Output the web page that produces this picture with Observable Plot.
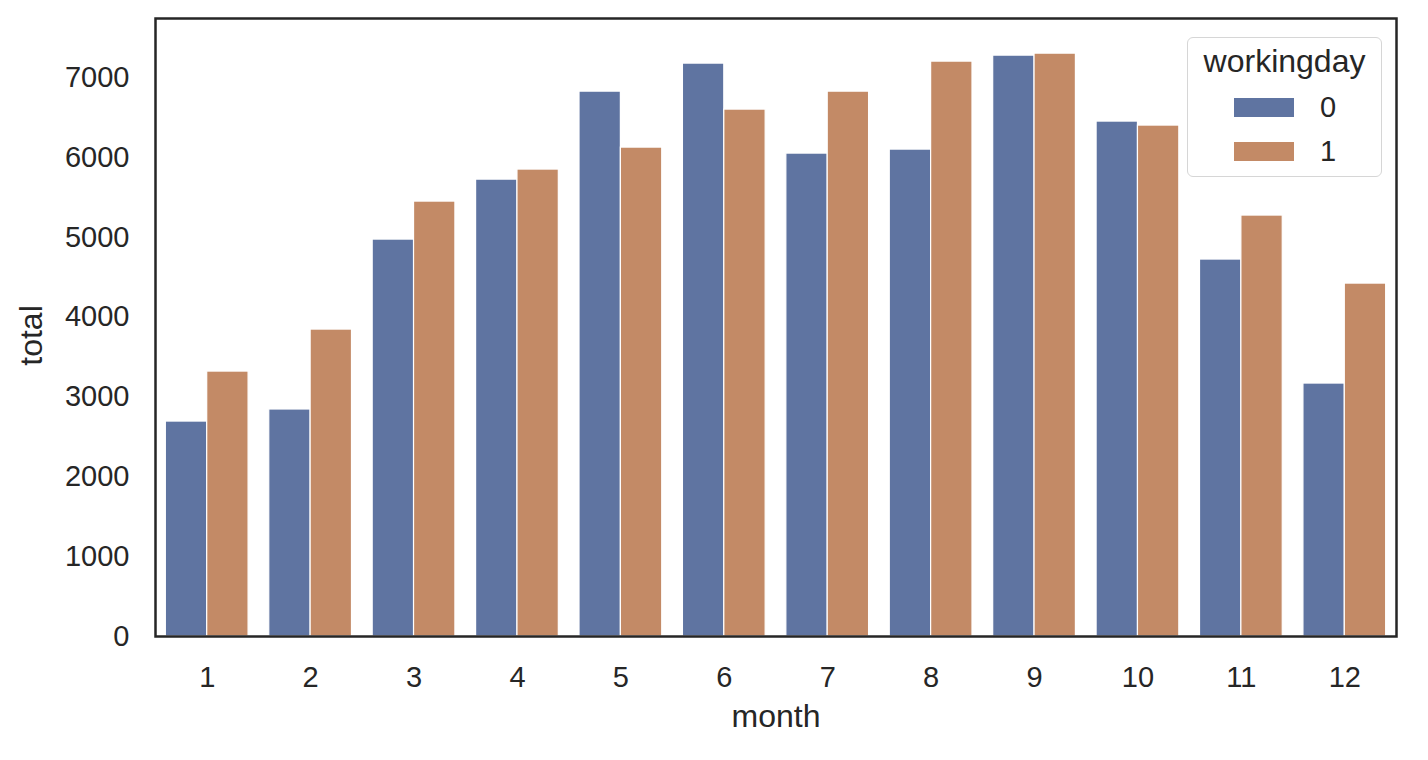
<!DOCTYPE html>
<html>
<head>
<meta charset="utf-8">
<script src="https://cdn.jsdelivr.net/npm/d3@7"></script>
<script src="https://cdn.jsdelivr.net/npm/@observablehq/plot@0.6"></script>
<style>
  html, body { margin: 0; padding: 0; background: #fff; }
  #wrap { position: relative; width: 1428px; height: 760px; font-family: "Liberation Sans", Arial, sans-serif; color: #262626; }
  #legend { position: absolute; left: 1187px; top: 37px; width: 193px; height: 138px; border: 1.5px solid #d6d6d6; border-radius: 6px; background: rgba(255,255,255,0.8); box-sizing: content-box; }
  #legend .title { position: absolute; left: 0; right: 0; top: 5px; text-align: center; font-size: 32px; line-height: 36px; }
  #legend .item { position: absolute; left: 46px; height: 30px; display: flex; align-items: center; font-size: 29px; }
  #legend .sw { width: 60px; height: 19px; margin-right: 26px; }
</style>
</head>
<body>
<div id="wrap"></div>
<script>
const months = [1, 2, 3, 4, 5, 6, 7, 8, 9, 10, 11, 12];
const workingdays = ["0", "1"];
const totals0 = [2692, 2843, 4971, 5722, 6824, 7175, 6048, 6098, 7275, 6449, 4721, 3168];
const totals1 = [3318, 3844, 5447, 5848, 6123, 6599, 6824, 7200, 7300, 6399, 5272, 4420];
const yTicks = [0, 1000, 2000, 3000, 4000, 5000, 6000, 7000];
const colors = ["#5f74a1", "#c38a66"];

const data = [];
months.forEach((m, i) => {
  data.push({month: m, workingday: "0", total: totals0[i], x1: m - 0.4, x2: m});
  data.push({month: m, workingday: "1", total: totals1[i], x1: m, x2: m + 0.4});
});

const chart = Plot.plot({
  width: 1428,
  height: 760,
  marginLeft: 155,
  marginRight: 32,
  marginTop: 18,
  marginBottom: 124,
  style: {fontFamily: "'Liberation Sans', Arial, sans-serif", fontSize: "29px", color: "#262626", background: "white"},
  x: {domain: [0.5, 12.5]},
  y: {domain: [0, 7740]},
  color: {domain: workingdays, range: colors},
  marks: [
    Plot.rectY(data, {x1: "x1", x2: "x2", y: "total", fill: "workingday", stroke: "white", strokeWidth: 1.2}),
    Plot.axisX({ticks: months, tickSize: 0, tickPadding: 30, tickFormat: d => String(d), label: null, fontSize: 29}),
    Plot.axisY({ticks: yTicks, tickSize: 0, tickPadding: 26, tickFormat: d => String(d), label: null, fontSize: 29}),
    Plot.text(["month"], {frameAnchor: "bottom", textAnchor: "middle", dy: 90, fontSize: 32, fill: "#262626"}),
    Plot.text(["total"], {frameAnchor: "left", textAnchor: "middle", dx: -124, dy: 8, rotate: -90, fontSize: 32, fill: "#262626"}),
    Plot.frame({stroke: "#262626", strokeWidth: 2.5})
  ]
});

const wrap = document.getElementById("wrap");
wrap.appendChild(chart);

const color = chart.scale("color");
const legend = document.createElement("div");
legend.id = "legend";
const title = document.createElement("div");
title.className = "title";
title.textContent = "workingday";
legend.appendChild(title);
workingdays.forEach((w, i) => {
  const item = document.createElement("div");
  item.className = "item";
  item.style.top = (54 + i * 44) + "px";
  const sw = document.createElement("div");
  sw.className = "sw";
  sw.style.background = color.apply(w);
  const lab = document.createElement("span");
  lab.textContent = w;
  item.appendChild(sw);
  item.appendChild(lab);
  legend.appendChild(item);
});
wrap.appendChild(legend);
</script>
</body>
</html>
